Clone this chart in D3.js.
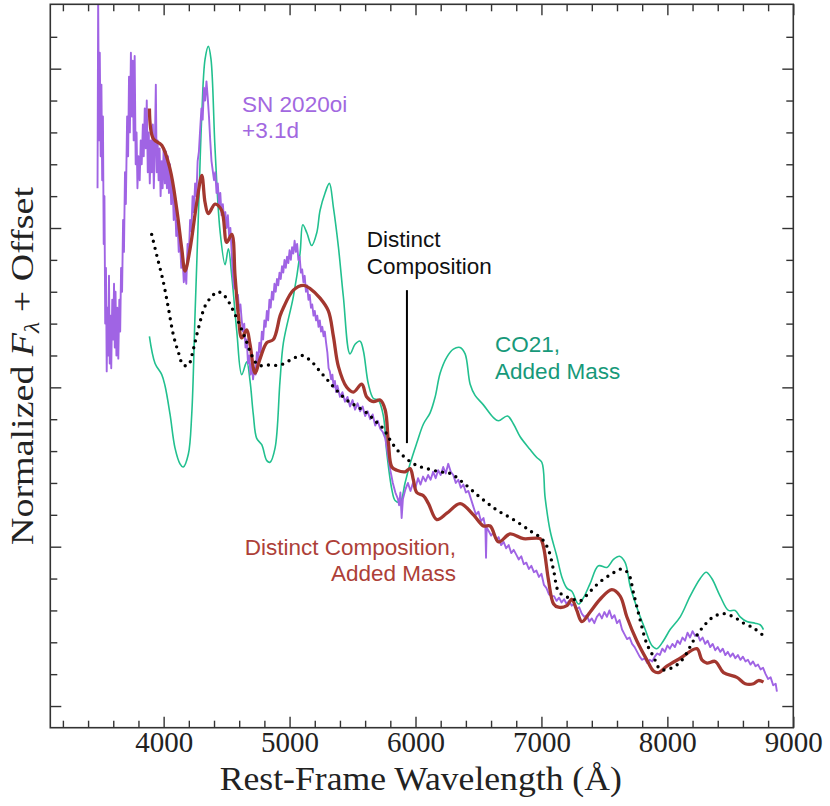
<!DOCTYPE html>
<html lang="en">
  <head>
    <meta charset="UTF-8" />
    <title>SN 2020oi spectrum vs models</title>
    <style>
      body { margin: 0; background: #fff; }
      .note { font-family: "Liberation Sans", Arial, Helvetica, sans-serif; font-size: 22.5px; }
      .axis text { font-family: "Liberation Serif", "DejaVu Serif", serif; font-size: 29px; fill: #222; }
      .axis line { stroke: #333; stroke-width: 1.4; }
    </style>
  </head>
  <body>
    <script src="https://d3js.org/d3.v7.min.js"></script>
    <script>
      const width = 830;
      const height = 806;
      const margin = { top: 4.3, right: 36.7, bottom: 78.3, left: 50.3 };

      // observed spectrum, [wavelength (A), normalized flux + offset]
      const sn2020oi = [
        [3475,3.25],[3480,4.45],[3487,3.55],[3493,4.10],[3500,3.45],[3506,3.90],[3512,3.30],[3518,3.70],
        [3524,2.90],[3530,3.20],[3536,2.40],[3542,2.75],[3548,2.10],[3554,2.50],[3560,2.20],[3566,2.70],
        [3572,2.15],[3578,2.45],[3584,2.12],[3592,2.55],[3600,2.30],[3606,2.65],[3612,2.25],[3618,2.60],
        [3625,2.20],[3632,2.50],[3640,2.18],[3648,2.55],[3655,2.35],[3662,2.75],[3670,2.60],[3678,3.05],
        [3685,2.85],[3693,3.35],[3700,3.15],[3710,3.70],[3718,3.45],[3725,3.95],[3732,3.60],[3740,4.10],
        [3748,3.70],[3755,4.05],[3762,3.55],[3770,4.08],[3778,3.40],[3785,3.60],[3792,3.25],[3800,3.45],
        [3810,3.30],[3818,3.55],[3826,3.40],[3835,3.65],[3842,3.45],[3850,3.75],[3858,3.50],[3866,3.80],
        [3874,3.35],[3882,3.60],[3890,3.28],[3898,3.55],[3906,3.35],[3914,3.65],[3922,3.25],[3930,3.50],
        [3938,3.90],[3945,3.35],[3952,3.55],[3960,3.30],[3968,3.50],[3976,3.20],[3984,3.42],[3992,3.25],
        [4000,3.50],[4010,3.28],[4018,3.48],[4026,3.25],[4034,3.45],[4042,3.22],[4050,3.40],[4060,3.15],
        [4070,3.30],[4080,3.05],[4090,3.18],[4100,2.95],[4110,3.05],[4120,2.85],[4130,2.92],[4140,2.75],
        [4150,2.82],[4160,2.66],[4170,2.74],[4180,2.65],[4190,2.90],[4200,2.82],[4210,3.05],[4220,2.98],
        [4230,3.20],[4240,3.10],[4250,3.28],[4260,3.20],[4270,3.42],[4280,3.48],[4290,3.62],[4300,3.75],
        [4310,3.68],[4320,3.88],[4330,3.80],[4340,3.92],[4350,3.82],[4360,3.70],[4370,3.55],[4380,3.42],
        [4390,3.36],[4400,3.30],[4410,3.35],[4420,3.22],[4430,3.28],[4440,3.15],[4450,3.22],[4460,3.08],
        [4470,3.15],[4480,3.05],[4490,3.10],[4500,3.00],[4510,3.08],[4520,2.95],[4530,3.00],[4540,2.85],
        [4550,2.70],[4560,2.62],[4570,2.65],[4580,2.55],[4590,2.58],[4600,2.48],[4610,2.52],[4620,2.42],
        [4630,2.35],[4640,2.40],[4650,2.25],[4660,2.30],[4670,2.15],[4680,2.20],[4690,2.08],[4700,2.15],
        [4710,2.05],[4720,2.12],[4730,2.08],[4740,2.22],[4750,2.15],[4760,2.28],[4770,2.22],[4780,2.35],
        [4790,2.30],[4800,2.42],[4810,2.38],[4820,2.48],[4830,2.42],[4840,2.55],[4850,2.50],[4860,2.60],
        [4870,2.55],[4880,2.65],[4890,2.60],[4900,2.68],[4910,2.64],[4920,2.72],[4930,2.68],[4940,2.76],
        [4950,2.72],[4960,2.80],[4970,2.75],[4980,2.82],[4990,2.78],[5000,2.86],[5010,2.80],[5020,2.88],
        [5030,2.84],[5040,2.92],[5050,2.85],[5060,2.90],[5070,2.80],[5080,2.82],[5090,2.72],[5100,2.74],
        [5110,2.66],[5120,2.70],[5130,2.60],[5140,2.64],[5150,2.55],[5160,2.58],[5170,2.50],[5180,2.52],
        [5190,2.45],[5200,2.48],[5210,2.42],[5220,2.45],[5230,2.38],[5240,2.42],[5250,2.35],[5260,2.38],
        [5270,2.32],[5280,2.35],[5290,2.28],[5300,2.22],[5310,2.12],[5320,2.10],[5330,2.05],[5340,2.08],
        [5350,2.00],[5360,2.04],[5370,1.97],[5380,2.01],[5400,1.94],[5420,1.97],[5440,1.91],[5460,1.94],
        [5480,1.88],[5500,1.92],[5520,1.86],[5540,1.90],[5560,1.85],[5580,1.88],[5600,1.82],[5620,1.85],
        [5640,1.80],[5660,1.83],[5680,1.76],[5700,1.79],[5720,1.74],[5740,1.72],[5760,1.68],[5780,1.58],
        [5800,1.48],[5820,1.40],[5840,1.34],[5860,1.30],[5870,1.26],[5880,1.34],[5890,1.18],[5900,1.30],
        [5920,1.36],[5940,1.40],[5960,1.35],[5980,1.40],[6000,1.37],[6020,1.43],[6040,1.39],[6060,1.44],
        [6080,1.41],[6100,1.45],[6120,1.42],[6140,1.47],[6160,1.43],[6180,1.48],[6200,1.45],[6220,1.50],
        [6240,1.46],[6260,1.52],[6280,1.47],[6300,1.45],[6320,1.40],[6340,1.42],[6360,1.37],[6380,1.39],
        [6400,1.34],[6420,1.35],[6440,1.30],[6460,1.25],[6480,1.20],[6500,1.22],[6520,1.16],[6540,1.18],
        [6555,1.12],[6560,0.93],[6565,1.12],[6580,1.10],[6600,1.07],[6620,1.09],[6640,1.04],[6660,1.06],
        [6680,1.01],[6700,1.03],[6720,0.99],[6740,1.01],[6760,0.96],[6780,0.98],[6800,0.95],[6820,0.92],
        [6840,0.94],[6860,0.89],[6880,0.90],[6900,0.86],[6920,0.88],[6940,0.84],[6960,0.85],[6980,0.81],
        [7000,0.83],[7020,0.76],[7040,0.74],[7060,0.70],[7080,0.69],[7100,0.69],[7120,0.66],[7140,0.68],
        [7160,0.65],[7180,0.67],[7200,0.64],[7220,0.66],[7240,0.63],[7260,0.64],[7280,0.61],[7300,0.62],
        [7320,0.58],[7340,0.56],[7360,0.57],[7380,0.53],[7400,0.55],[7420,0.52],[7440,0.56],[7460,0.58],
        [7480,0.55],[7500,0.59],[7520,0.56],[7540,0.60],[7560,0.55],[7580,0.57],[7600,0.52],[7620,0.54],
        [7640,0.48],[7660,0.45],[7680,0.42],[7700,0.43],[7720,0.39],[7740,0.37],[7760,0.34],[7780,0.31],
        [7800,0.29],[7820,0.30],[7840,0.27],[7860,0.29],[7880,0.28],[7900,0.31],[7920,0.33],[7940,0.32],
        [7960,0.36],[7980,0.34],[8000,0.38],[8020,0.36],[8040,0.39],[8060,0.37],[8080,0.41],[8100,0.39],
        [8120,0.43],[8140,0.41],[8160,0.46],[8180,0.43],[8200,0.47],[8220,0.44],[8240,0.45],[8260,0.41],
        [8280,0.43],[8300,0.39],[8320,0.41],[8340,0.37],[8360,0.39],[8380,0.35],[8400,0.37],[8420,0.34],
        [8440,0.36],[8460,0.32],[8480,0.34],[8500,0.31],[8520,0.33],[8540,0.30],[8560,0.32],[8580,0.29],
        [8600,0.31],[8620,0.28],[8640,0.29],[8660,0.26],[8680,0.28],[8700,0.25],[8720,0.26],[8740,0.23],
        [8760,0.24],[8780,0.20],[8800,0.17],[8820,0.18],[8840,0.13],[8860,0.14],[8870,0.09]
      ];

      // model: distinct composition, added mass
      const distinctAdded = [
        [3887,3.75],[3918,3.56],[3985,3.52],[4051,3.37],[4104,3.12],[4144,2.87],[4170,2.73],[4210,2.87],
        [4263,3.16],[4303,3.33],[4329,3.16],[4355,3.09],[4408,3.15],[4461,3.11],[4501,2.91],[4541,2.96],
        [4567,2.70],[4594,2.45],[4620,2.31],[4660,2.36],[4686,2.27],[4726,2.09],[4766,2.18],[4819,2.28],
        [4871,2.30],[4925,2.45],[4951,2.50],[5030,2.61],[5110,2.64],[5163,2.62],[5242,2.56],[5308,2.48],
        [5348,2.32],[5388,2.13],[5454,2.00],[5507,1.97],[5573,2.02],[5613,1.94],[5666,1.91],[5719,1.92],
        [5759,1.86],[5785,1.65],[5812,1.50],[5852,1.48],[5917,1.47],[5957,1.49],[5983,1.42],[6010,1.34],
        [6063,1.32],[6103,1.27],[6169,1.17],[6249,1.21],[6354,1.27],[6460,1.20],[6539,1.13],[6593,1.13],
        [6659,1.03],[6751,1.08],[6857,1.05],[6990,1.05],[7016,1.00],[7056,0.79],[7097,0.64],[7135,0.62],
        [7202,0.63],[7241,0.67],[7281,0.60],[7321,0.53],[7387,0.59],[7466,0.67],[7559,0.73],[7625,0.69],
        [7678,0.56],[7757,0.41],[7837,0.29],[7890,0.22],[7930,0.21],[7996,0.25],[8102,0.30],[8234,0.36],
        [8274,0.29],[8314,0.27],[8380,0.28],[8446,0.21],[8552,0.18],[8618,0.14],[8684,0.14],[8724,0.16],
        [8763,0.15]
      ];

      // model: CO21, added mass
      const co21Added = [
        [3887,2.32],[3932,2.15],[3985,2.08],[4011,2.01],[4051,1.83],[4090,1.62],[4130,1.52],[4156,1.50],
        [4196,1.58],[4223,1.83],[4249,2.45],[4276,3.08],[4303,3.71],[4329,4.06],[4355,4.14],[4376,4.06],
        [4408,3.50],[4448,2.98],[4488,2.77],[4514,2.87],[4541,2.70],[4581,2.35],[4620,2.08],[4660,2.16],
        [4686,2.04],[4712,1.83],[4739,1.68],[4779,1.64],[4819,1.54],[4845,1.53],[4885,1.62],[4924,2.04],
        [4951,2.28],[5030,2.57],[5083,2.84],[5105,3.02],[5137,2.97],[5176,2.89],[5216,2.97],[5242,3.11],
        [5282,3.22],[5316,3.28],[5348,3.13],[5388,2.88],[5427,2.57],[5480,2.21],[5520,2.27],[5560,2.29],
        [5586,2.23],[5626,2.02],[5666,1.93],[5705,1.92],[5745,1.82],[5772,1.59],[5812,1.36],[5838,1.29],
        [5878,1.28],[5917,1.40],[5957,1.52],[6010,1.65],[6063,1.77],[6116,1.84],[6156,1.94],[6196,2.09],
        [6249,2.19],[6301,2.24],[6354,2.25],[6394,2.21],[6434,2.02],[6473,1.95],[6539,1.89],[6619,1.81],
        [6659,1.79],[6730,1.82],[6778,1.77],[6831,1.69],[6910,1.61],[6963,1.56],[7003,1.53],[7029,1.31],
        [7069,1.10],[7122,0.94],[7162,0.81],[7202,0.74],[7241,0.72],[7294,0.64],[7334,0.68],[7387,0.77],
        [7453,0.88],[7520,0.87],[7572,0.92],[7620,0.94],[7665,0.90],[7705,0.75],[7757,0.62],[7824,0.48],
        [7877,0.38],[7916,0.36],[7969,0.41],[8022,0.48],[8102,0.56],[8181,0.69],[8261,0.80],[8308,0.84],
        [8353,0.80],[8419,0.69],[8485,0.60],[8538,0.60],[8578,0.56],[8631,0.53],[8697,0.52],[8737,0.51],
        [8763,0.48]
      ];

      // model: distinct composition (dotted)
      const distinct = [
        [3905,2.96],[3945,2.83],[3998,2.66],[4037,2.50],[4077,2.33],[4117,2.22],[4156,2.14],[4196,2.14],
        [4236,2.24],[4276,2.37],[4329,2.51],[4382,2.57],[4430,2.60],[4488,2.57],[4541,2.50],[4594,2.41],
        [4647,2.31],[4700,2.20],[4752,2.14],[4832,2.14],[4924,2.14],[5004,2.17],[5097,2.20],[5176,2.16],
        [5242,2.10],[5308,2.04],[5375,1.98],[5454,1.92],[5534,1.88],[5613,1.84],[5679,1.79],[5745,1.74],
        [5798,1.67],[5852,1.61],[5931,1.55],[6010,1.51],[6090,1.49],[6195,1.47],[6275,1.46],[6381,1.40],
        [6513,1.31],[6646,1.23],[6778,1.17],[6910,1.10],[7003,1.05],[7056,0.98],[7097,0.85],[7135,0.72],
        [7188,0.69],[7254,0.67],[7307,0.66],[7387,0.72],[7466,0.78],[7559,0.83],[7639,0.86],[7691,0.83],
        [7731,0.71],[7784,0.54],[7837,0.39],[7890,0.31],[7943,0.23],[7996,0.23],[8062,0.25],[8128,0.30],
        [8207,0.41],[8287,0.50],[8366,0.56],[8446,0.58],[8525,0.56],[8605,0.52],[8684,0.49],[8750,0.45]
      ];

      const xMajor = [4000, 5000, 6000, 7000, 8000, 9000];
      const xMinor = d3.range(3200, 9000, 200).filter((d) => d % 1000 !== 0);
      const yMajor = [0, 1, 2, 3, 4];
      const yMinor = [0.2, 0.4, 0.6, 0.8, 1.2, 1.4, 1.6, 1.8, 2.2, 2.4, 2.6, 2.8, 3.2, 3.4, 3.6, 3.8, 4.2];

      // [text lines, wavelength, flux, anchor, colour]
      const notes = [
        [["SN 2020oi", "+3.1d"], 4623, 3.73, "start", "#a268e0"],
        [["Distinct", "Composition"], 5613, 2.88, "start", "#111"],
        [["CO21,", "Added Mass"], 6632, 2.22, "start", "#17997a"],
        [["Distinct Composition,", "Added Mass"], 6322, 0.95, "end", "#ad3f38"]
      ];
      const pointer = [[5932, 2.61], [5932, 1.65]];

      const svg = d3
        .select("body")
        .append("svg")
        .attr("width", width)
        .attr("height", height);

      const x = d3
        .scaleLinear()
        .domain([3100, 9000])
        .range([margin.left, width - margin.right]);
      const y = d3
        .scaleLinear()
        .domain([-0.136, 4.404])
        .range([height - margin.bottom, margin.top]);

      svg
        .append("clipPath")
        .attr("id", "plot")
        .append("rect")
        .attr("x", margin.left)
        .attr("y", margin.top)
        .attr("width", width - margin.left - margin.right)
        .attr("height", height - margin.top - margin.bottom);

      const line = d3
        .line()
        .x((d) => x(d[0]))
        .y((d) => y(d[1]));
      const smooth = d3
        .line()
        .x((d) => x(d[0]))
        .y((d) => y(d[1]))
        .curve(d3.curveCatmullRom);

      const plot = svg.append("g").attr("clip-path", "url(#plot)");

      plot
        .append("path")
        .datum(co21Added)
        .attr("fill", "none")
        .attr("stroke", "#22c08f")
        .attr("stroke-width", 1.6)
        .attr("d", smooth);

      plot
        .append("path")
        .datum(sn2020oi)
        .attr("fill", "none")
        .attr("stroke", "#a064e4")
        .attr("stroke-width", 1.9)
        .attr("stroke-linejoin", "round")
        .attr("d", line);

      plot
        .append("path")
        .datum(distinctAdded)
        .attr("fill", "none")
        .attr("stroke", "#a3372f")
        .attr("stroke-width", 3.3)
        .attr("stroke-linejoin", "round")
        .attr("d", smooth);

      plot
        .append("path")
        .datum(distinct)
        .attr("fill", "none")
        .attr("stroke", "#000")
        .attr("stroke-width", 3.4)
        .attr("stroke-linecap", "round")
        .attr("stroke-dasharray", "0 7.2")
        .attr("d", smooth);

      plot
        .append("path")
        .datum(pointer)
        .attr("stroke", "#000")
        .attr("stroke-width", 2)
        .attr("d", line);

      notes.forEach(([lines, wl, fl, anchor, colour]) => {
        const t = svg
          .append("text")
          .attr("class", "note")
          .attr("x", x(wl))
          .attr("y", y(fl))
          .attr("text-anchor", anchor)
          .attr("fill", colour);
        lines.forEach((s, i) => {
          t.append("tspan")
            .attr("x", x(wl))
            .attr("dy", i === 0 ? 0 : 26.6)
            .text(s);
        });
      });

      // ticks on all four sides, pointing inward
      const b = height - margin.bottom;
      const r = width - margin.right;
      const addAxis = (axis, tx, ty, labels) => {
        const g = svg
          .append("g")
          .attr("class", "axis")
          .attr("transform", `translate(${tx},${ty})`)
          .call(axis);
        g.select(".domain").remove();
        if (!labels) g.selectAll("text").remove();
        return g;
      };

      addAxis(d3.axisBottom(x).tickValues(xMajor).tickSize(-11).tickPadding(3.5).tickFormat(d3.format("d")), 0, b, true);
      addAxis(d3.axisBottom(x).tickValues(xMinor).tickSize(-7), 0, b, false);
      addAxis(d3.axisTop(x).tickValues(xMajor).tickSize(-11), 0, margin.top, false);
      addAxis(d3.axisTop(x).tickValues(xMinor).tickSize(-7), 0, margin.top, false);
      addAxis(d3.axisLeft(y).tickValues(yMajor).tickSize(-11), margin.left, 0, false);
      addAxis(d3.axisLeft(y).tickValues(yMinor).tickSize(-7), margin.left, 0, false);
      addAxis(d3.axisRight(y).tickValues(yMajor).tickSize(-11), r, 0, false);
      addAxis(d3.axisRight(y).tickValues(yMinor).tickSize(-7), r, 0, false);

      svg
        .append("rect")
        .attr("x", margin.left)
        .attr("y", margin.top)
        .attr("width", r - margin.left)
        .attr("height", b - margin.top)
        .attr("fill", "none")
        .attr("stroke", "#333")
        .attr("stroke-width", 1.6);

      svg
        .append("text")
        .attr("x", (margin.left + r) / 2 - 1)
        .attr("y", 790)
        .attr("text-anchor", "middle")
        .attr("font-family", "Liberation Serif, DejaVu Serif, serif")
        .attr("font-size", 34)
        .attr("fill", "#222")
        .attr("textLength", 402)
        .attr("lengthAdjust", "spacingAndGlyphs")
        .text("Rest-Frame Wavelength (Å)");

      const ylab = svg
        .append("text")
        .attr("transform", "translate(33,366) rotate(-90)")
        .attr("text-anchor", "middle")
        .attr("font-family", "Liberation Serif, DejaVu Serif, serif")
        .attr("font-size", 31)
        .attr("fill", "#222")
        .attr("textLength", 358)
        .attr("lengthAdjust", "spacingAndGlyphs");
      ylab.append("tspan").text("Normalized ");
      ylab.append("tspan").attr("font-style", "italic").text("F");
      ylab.append("tspan").attr("font-style", "italic").attr("font-size", 21).attr("dy", 6).text("λ");
      ylab.append("tspan").attr("dy", -6).text(" + Offset");
    </script>
  </body>
</html>
